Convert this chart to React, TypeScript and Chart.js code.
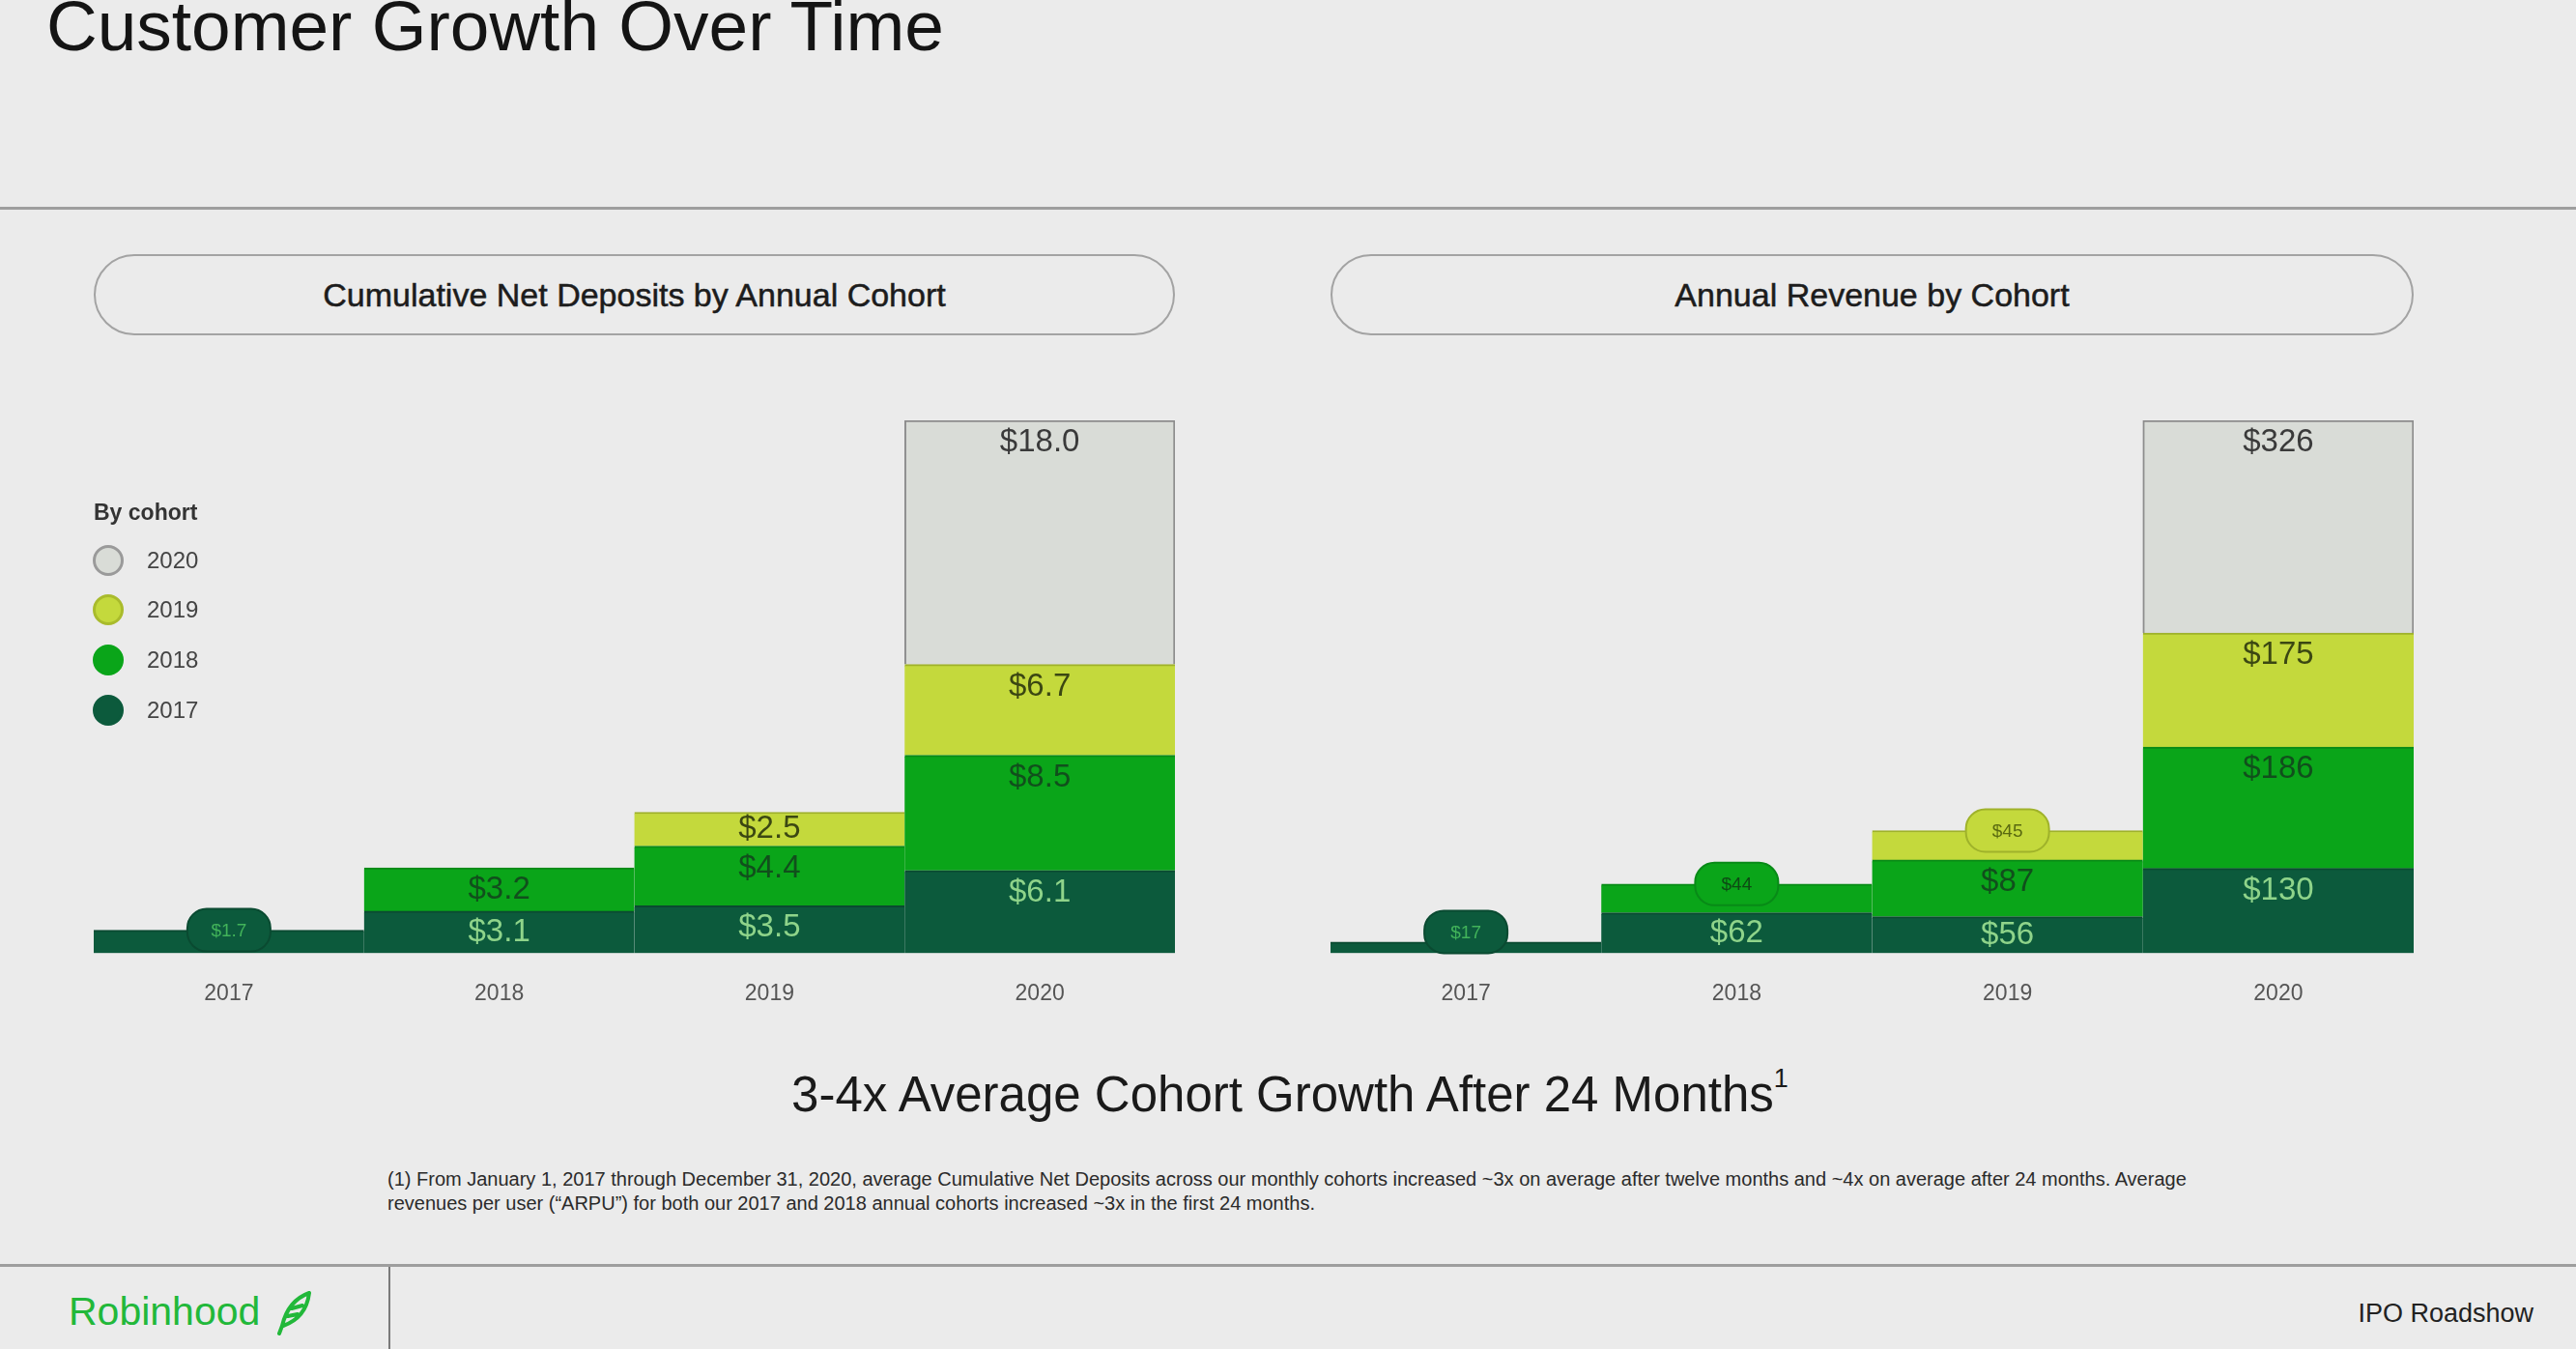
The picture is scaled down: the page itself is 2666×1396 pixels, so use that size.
import React, { useEffect, useRef } from "react";
import { Chart, registerables } from "chart.js";

Chart.register(...registerables);

// ---------- data ----------
const years = ["2017", "2018", "2019", "2020"];
const cohorts = ["2017", "2018", "2019", "2020"];

// Cumulative Net Deposits by Annual Cohort ($B)
const deposits2017 = [1.7, 3.1, 3.5, 6.1];
const deposits2018 = [null, 3.2, 4.4, 8.5];
const deposits2019 = [null, null, 2.5, 6.7];
const deposits2020 = [null, null, null, 18.0];

// Annual Revenue by Cohort ($M)
const revenue2017 = [17, 62, 56, 130];
const revenue2018 = [null, 44, 87, 186];
const revenue2019 = [null, null, 45, 175];
const revenue2020 = [null, null, null, 326];

const legendOrder = ["2020", "2019", "2018", "2017"];

// ---------- styles ----------
const FONT = "'Liberation Sans', Arial, Helvetica, sans-serif";
const cohortColors = ["#0c5a3c", "#0aa519", "#c4d93c", "#d9dcd7"];
const cohortEdge = ["#0a4a31", "#088a17", "#9fb22a", "#8d8d8d"];
const labelColors = ["#8fd48a", "#114f1c", "#3b4712", "#3a3a3a"];
const badgeTextColors = ["#42b35a", "#0d4a14", "#5a6a10", "#333333"];

const segmentLabelPlugin = {
  id: "segmentLabels",
  afterDatasetsDraw(chart: any, _args: any, opts: any) {
    const ctx = chart.ctx;
    const fmt = opts.format as (v: number) => string;
    chart.data.datasets.forEach((ds: any, di: number) => {
      const meta = chart.getDatasetMeta(di);
      meta.data.forEach((bar: any, i: number) => {
        const v = ds.data[i];
        if (v == null) return;
        const { x, y, base } = bar.getProps(["x", "y", "base"], true);
        const h = base - y;
        const text = fmt(v);
        ctx.save();
        ctx.textAlign = "center";
        ctx.textBaseline = "middle";
        if (h < 33) {
          const pw = 86;
          const ph = 44;
          const cy = Math.min(y, base - ph / 2);
          ctx.beginPath();
          ctx.roundRect(x - pw / 2, cy - ph / 2, pw, ph, 20);
          ctx.fillStyle = cohortColors[di];
          ctx.fill();
          ctx.lineWidth = 2;
          ctx.strokeStyle = cohortEdge[di];
          ctx.stroke();
          ctx.font = `19px ${FONT}`;
          ctx.fillStyle = badgeTextColors[di];
          ctx.fillText(text, x, cy + 1);
        } else {
          const cy = Math.min(y + 23, (y + base) / 2);
          ctx.font = `33px ${FONT}`;
          ctx.fillStyle = labelColors[di];
          ctx.fillText(text, x, cy);
        }
        ctx.restore();
      });
    });
  },
};

type Series = (number | null)[][];

function StackedChart(props: {
  series: Series;
  format: (v: number) => string;
  width: number;
  height: number;
}) {
  const ref = useRef<HTMLCanvasElement | null>(null);
  useEffect(() => {
    if (!ref.current) return;
    const { series, format } = props;
    const total = Math.max(
      ...years.map((_, i) => series.reduce((s, arr) => s + (arr[i] ?? 0), 0))
    );
    const chart = new Chart(ref.current, {
      type: "bar",
      data: {
        labels: years,
        datasets: series.map((arr, di) => ({
          label: cohorts[di],
          data: arr,
          backgroundColor: cohortColors[di],
          borderColor: cohortEdge[di],
          borderWidth:
            di === 3 ? 2 : { top: 2, left: 0, right: 0, bottom: 0 },
          borderSkipped: "bottom",
          categoryPercentage: 1,
          barPercentage: 1,
        })),
      },
      options: {
        responsive: false,
        animation: false,
        devicePixelRatio: 1,
        layout: { padding: { top: 10, left: 0, right: 0, bottom: 0 } },
        plugins: {
          legend: { display: false },
          tooltip: { enabled: false },
          segmentLabels: { format },
        } as any,
        scales: {
          x: {
            stacked: true,
            grid: { display: false, drawTicks: false },
            border: { display: false },
            ticks: { padding: 28, color: "#555555", font: { size: 23, family: FONT } },
          },
          y: { stacked: true, display: false, min: 0, max: total },
        },
      },
      plugins: [segmentLabelPlugin as any],
    });
    return () => chart.destroy();
  }, []);
  return (
    <canvas
      ref={ref}
      width={props.width}
      height={props.height}
      style={{ width: props.width, height: props.height, display: "block" }}
    />
  );
}

const abs = (s: React.CSSProperties): React.CSSProperties => ({ position: "absolute", ...s });

function PillTitle(props: { left: number; width: number; text: string }) {
  return (
    <div
      style={abs({
        left: props.left,
        top: 263,
        width: props.width,
        height: 84,
        boxSizing: "border-box",
        border: "2px solid #a3a3a3",
        borderRadius: 42,
        display: "flex",
        alignItems: "center",
        justifyContent: "center",
        fontSize: 34,
        color: "#1c1c1c",
        WebkitTextStroke: "0.5px #1c1c1c",
      })}
    >
      {props.text}
    </div>
  );
}

function Legend() {
  const legendColors: Record<string, [string, string]> = {
    "2020": ["#d9dcd7", "#9a9a9a"],
    "2019": ["#c4d93c", "#a9bb2c"],
    "2018": ["#0aa519", "#0aa519"],
    "2017": ["#0c5a3c", "#0c5a3c"],
  };
  const ys = [580, 631, 683, 735];
  return (
    <>
      <div
        style={abs({
          left: 97,
          top: 519,
          fontSize: 23,
          lineHeight: "23px",
          fontWeight: 700,
          color: "#333",
        })}
      >
        By cohort
      </div>
      {legendOrder.map((c, i) => (
        <React.Fragment key={c}>
          <div
            style={abs({
              left: 96,
              top: ys[i] - 16,
              width: 32,
              height: 32,
              boxSizing: "border-box",
              borderRadius: 16,
              background: legendColors[c][0],
              border: `3px solid ${legendColors[c][1]}`,
            })}
          />
          <div
            style={abs({
              left: 152,
              top: ys[i] - 12,
              fontSize: 24,
              lineHeight: "24px",
              color: "#444",
            })}
          >
            {c}
          </div>
        </React.Fragment>
      ))}
    </>
  );
}

export default function App() {
  const depositSeries: Series = [deposits2017, deposits2018, deposits2019, deposits2020];
  const revenueSeries: Series = [revenue2017, revenue2018, revenue2019, revenue2020];
  return (
    <div
      style={{
        position: "fixed",
        left: 0,
        top: 0,
        width: 2666,
        height: 1396,
        overflow: "hidden",
        background: "#ebebeb",
        fontFamily: FONT,
      }}
    >
      <div
        style={abs({
          left: 48,
          top: -10,
          fontSize: 73,
          lineHeight: "73px",
          color: "#141414",
          whiteSpace: "nowrap",
        })}
      >
        Customer Growth Over Time
      </div>
      <div style={abs({ left: 0, top: 214, width: 2666, height: 3, background: "#9e9e9e" })} />

      <PillTitle left={97} width={1119} text="Cumulative Net Deposits by Annual Cohort" />
      <PillTitle left={1377} width={1121} text="Annual Revenue by Cohort" />

      <div style={abs({ left: 97, top: 425 })}>
        <StackedChart series={depositSeries} format={(v) => `$${v.toFixed(1)}`} width={1119} height={645} />
      </div>
      <div style={abs({ left: 1377, top: 425 })}>
        <StackedChart series={revenueSeries} format={(v) => `$${Math.round(v)}`} width={1121} height={645} />
      </div>

      <Legend />

      <div
        style={abs({
          left: 0,
          top: 1107,
          width: 2670,
          textAlign: "center",
          fontSize: 51,
          lineHeight: "51px",
          color: "#1a1a1a",
          whiteSpace: "nowrap",
        })}
      >
        3-4x Average Cohort Growth After 24 Months
        <sup style={{ fontSize: 27, verticalAlign: "top", lineHeight: "27px", position: "relative", top: -4 }}>1</sup>
      </div>

      <div
        style={abs({
          left: 401,
          top: 1208,
          fontSize: 20,
          lineHeight: "25px",
          color: "#2a2a2a",
          whiteSpace: "nowrap",
        })}
      >
        (1) From January 1, 2017 through December 31, 2020, average Cumulative Net Deposits across our monthly cohorts
        increased ~3x on average after twelve months and ~4x on average after 24 months. Average
        <br />
        revenues per user (“ARPU”) for both our 2017 and 2018 annual cohorts increased ~3x in the first 24 months.
      </div>

      <div style={abs({ left: 0, top: 1308, width: 2666, height: 3, background: "#9e9e9e" })} />
      <div style={abs({ left: 402, top: 1311, width: 2, height: 90, background: "#7a7a7a" })} />

      <div
        style={abs({
          left: 71,
          top: 1337,
          fontSize: 41,
          lineHeight: "41px",
          color: "#22b83a",
          whiteSpace: "nowrap",
        })}
      >
        Robinhood
      </div>
      <svg style={abs({ left: 284, top: 1336, width: 40, height: 46 })} viewBox="0 0 40 46">
        <path
          d="M36 2 C22 7 12 19 8 36 L5 44 M36 2 C34 18 26 30 9 36 M14 26 L24 24 M18 18 L29 15"
          fill="none"
          stroke="#22b83a"
          strokeWidth="4"
          strokeLinecap="round"
        />
      </svg>

      <div
        style={abs({
          right: 44,
          top: 1346,
          fontSize: 27,
          lineHeight: "27px",
          color: "#222",
          whiteSpace: "nowrap",
        })}
      >
        IPO Roadshow
      </div>
    </div>
  );
}
